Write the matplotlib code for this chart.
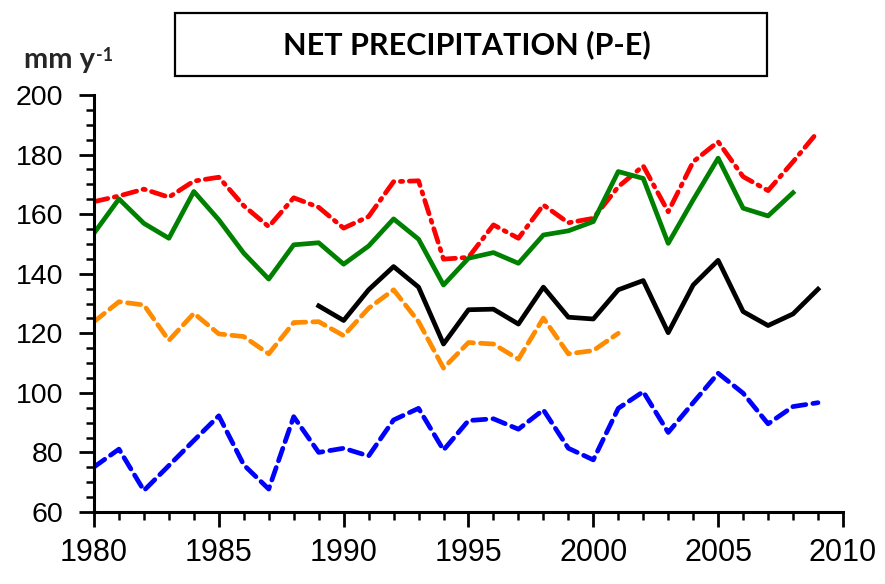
import matplotlib
matplotlib.use("Agg")
import matplotlib.pyplot as plt
from matplotlib.ticker import MultipleLocator

anios = list(range(1980, 2010))

# series de P-E (mm/año)
rojo = [164.2, 166.1, 168.4, 165.7, 171.1, 172.4, 162.8, 155.8, 165.5, 162.3,
        155.3, 159.2, 170.9, 171.2, 144.9, 145.5, 156.4, 151.9, 163.1, 157.1,
        158.6, 169.2, 176.2, 160.8, 177.6, 184.3, 172.6, 167.9, 177.6, 187.7]
verde = [153.6, 165.1, 156.9, 151.9, 167.6, 158.1, 146.9, 138.2, 149.7, 150.4,
         143.2, 149.3, 158.4, 151.6, 136.2, 145.2, 147.1, 143.5, 153.0, 154.4,
         157.5, 174.3, 172.0, 150.2, 164.8, 178.8, 162.0, 159.4, 167.2]
anios_negro = list(range(1989, 2010))
negro = [129.2, 124.3, 134.6, 142.4, 135.5, 116.4, 127.9, 128.1, 123.1, 135.5,
         125.4, 124.8, 134.6, 137.7, 120.2, 136.2, 144.5, 127.3, 122.6, 126.5,
         134.8]
naranja = [123.9, 130.6, 129.5, 117.6, 126.7, 119.8, 118.9, 113.1, 123.6, 123.9,
           119.2, 128.4, 134.6, 123.9, 108.3, 116.9, 116.4, 111.3, 125.1, 113.1,
           114.2, 120.0]
azul = [75.1, 81.1, 67.2, 75.6, 84.0, 92.3, 75.8, 67.7, 92.0, 80.0,
        81.4, 78.8, 90.9, 94.8, 80.8, 90.7, 91.3, 87.8, 94.3, 81.4,
        77.5, 94.8, 100.4, 86.7, 96.7, 106.6, 99.9, 89.6, 95.4, 96.7]

fuente_ejes = ["Liberation Sans", "DejaVu Sans"]
fuente_titulo = ["Lato", "DejaVu Sans"]

fig = plt.figure(figsize=(8.85, 5.84), dpi=100)
ax = fig.add_axes([0.1062, 0.1233, 0.8463, 0.714])

lw = 3.4
guiones = (0, (2.8, 1.5))
ax.plot(anios[:len(azul)], azul, color="#0000ff", lw=lw, linestyle=guiones,
        dash_capstyle="round", dash_joinstyle="round")
ax.plot(anios[:len(naranja)], naranja, color="#ff8c00", lw=lw, linestyle=guiones,
        dash_capstyle="round", dash_joinstyle="round")
ax.plot(anios_negro, negro, color="black", lw=lw, solid_joinstyle="round")
ax.plot(anios[:len(rojo)], rojo, color="#ff0000", lw=lw,
        linestyle=(0, (3.0, 1.4, 0.5, 1.4)), dash_capstyle="round",
        dash_joinstyle="round")
ax.plot(anios[:len(verde)], verde, color="#008000", lw=lw, solid_joinstyle="round")

ax.set_xlim(1980, 2010)
ax.set_ylim(60, 200)
ax.xaxis.set_major_locator(MultipleLocator(5))
ax.xaxis.set_minor_locator(MultipleLocator(1))
ax.yaxis.set_major_locator(MultipleLocator(20))
ax.yaxis.set_minor_locator(MultipleLocator(5))

for lado in ("top", "right"):
    ax.spines[lado].set_visible(False)
for lado in ("left", "bottom"):
    ax.spines[lado].set_linewidth(2.2)

ax.tick_params(which="major", direction="out", length=11, width=2)
ax.tick_params(which="minor", direction="out", length=6, width=1.8)
ax.tick_params(axis="x", which="major", pad=8, labelsize=22)
ax.tick_params(axis="y", which="major", pad=11, labelsize=20.5)
for etiqueta in ax.get_xticklabels() + ax.get_yticklabels():
    etiqueta.set_family(fuente_ejes)

# unidades arriba del eje y
t1 = fig.text(0.027, 0.884, "mm y", fontsize=21, fontweight="bold",
              family=fuente_titulo, color="#262626", va="baseline")
ax.annotate("-1", xy=(1.02, 1.0), xycoords=t1, fontsize=13, fontweight="bold",
            family=fuente_titulo, color="#262626",
            va="top", ha="left", annotation_clip=False)

# titulo en recuadro
caja = plt.Rectangle((0.198, 0.87), 0.669, 0.108, transform=fig.transFigure,
                     fill=False, edgecolor="black", linewidth=1.6)
fig.patches.append(caja)
fig.text(0.527, 0.923, "NET PRECIPITATION (P-E)", fontsize=22, fontweight="bold",
         family=fuente_titulo, ha="center", va="center")

fig.savefig("out.png", dpi=100)
